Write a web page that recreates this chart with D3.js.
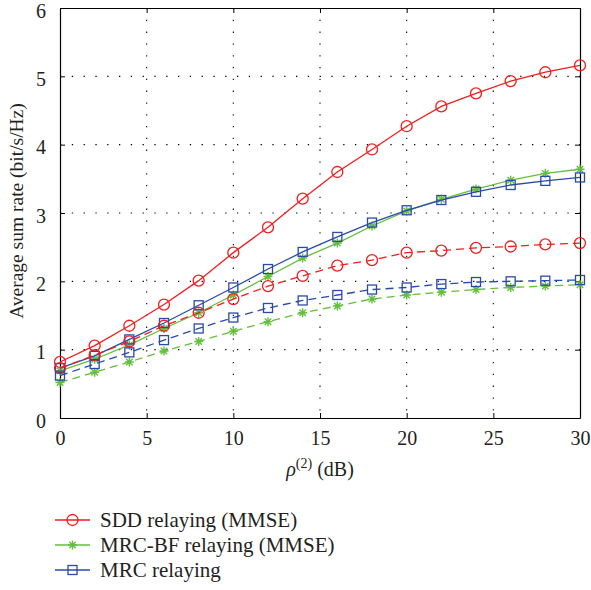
<!DOCTYPE html>
<html>
<head>
<meta charset="utf-8">
<script src="https://cdn.jsdelivr.net/npm/d3@7/dist/d3.min.js"></script>
<style>
  html, body { margin: 0; padding: 0; background: #fff; }
  svg { display: block; font-family: "Liberation Serif", "DejaVu Serif", serif; }
</style>
</head>
<body>
<svg id="chart" width="591" height="590"></svg>
<script>
// SNR points rho^(2) in dB
const snr = [0, 2, 4, 6, 8, 10, 12, 14, 16, 18, 20, 22, 24, 26, 28, 30];

// Average sum rate (bit/s/Hz), solid curves
const sddSolid   = [0.82, 1.06, 1.35, 1.66, 2.01, 2.42, 2.79, 3.21, 3.60, 3.93, 4.27, 4.56, 4.75, 4.93, 5.06, 5.16];
const mrcbfSolid = [0.69, 0.86, 1.07, 1.31, 1.54, 1.80, 2.07, 2.34, 2.56, 2.81, 3.03, 3.20, 3.35, 3.48, 3.58, 3.64];
const mrcSolid   = [0.73, 0.91, 1.15, 1.39, 1.65, 1.91, 2.18, 2.43, 2.65, 2.86, 3.04, 3.19, 3.31, 3.41, 3.47, 3.52];

// Dashed curves
const sddDashed   = [0.73, 0.92, 1.12, 1.35, 1.54, 1.74, 1.93, 2.08, 2.23, 2.31, 2.42, 2.45, 2.49, 2.51, 2.54, 2.56];
const mrcbfDashed = [0.52, 0.67, 0.82, 0.98, 1.12, 1.27, 1.41, 1.54, 1.64, 1.74, 1.80, 1.84, 1.88, 1.91, 1.93, 1.95];
const mrcDashed   = [0.62, 0.79, 0.96, 1.14, 1.31, 1.47, 1.61, 1.72, 1.80, 1.88, 1.91, 1.96, 1.99, 2.00, 2.01, 2.02];

const xTicks = [0, 5, 10, 15, 20, 25, 30];
const yTicks = [0, 1, 2, 3, 4, 5, 6];
const legendLabels = ["SDD relaying (MMSE)", "MRC-BF relaying (MMSE)", "MRC relaying"];

const RED = "#f01e1e", GREEN = "#63bf3c", BLUE = "#2a4aa8";
const INK = "#231f20";

const series = [
  { values: sddSolid,    color: RED,   marker: "circle", dashed: false },
  { values: mrcbfSolid,  color: GREEN, marker: "star",   dashed: false },
  { values: mrcSolid,    color: BLUE,  marker: "square", dashed: false },
  { values: sddDashed,   color: RED,   marker: "circle", dashed: true },
  { values: mrcbfDashed, color: GREEN, marker: "star",   dashed: true },
  { values: mrcDashed,   color: BLUE,  marker: "square", dashed: true }
];

const svg = d3.select("#chart");
const L = 60, R = 580, T = 8, B = 418;
const x = d3.scaleLinear().domain([0, 30]).range([L, R]);
const y = d3.scaleLinear().domain([0, 6]).range([B, T]);

// dotted grid
const grid = svg.append("g");
grid.selectAll("line.gx").data(xTicks.slice(1, -1)).enter().append("line")
  .attr("x1", d => x(d)).attr("x2", d => x(d)).attr("y1", T).attr("y2", B)
  .attr("stroke", "#000").attr("stroke-width", 1.1).attr("stroke-dasharray", "1.3,10.5");
grid.selectAll("line.gy").data(yTicks.slice(1, -1)).enter().append("line")
  .attr("x1", L).attr("x2", R).attr("y1", d => y(d)).attr("y2", d => y(d))
  .attr("stroke", "#000").attr("stroke-width", 1.1).attr("stroke-dasharray", "1.3,10.5");

// axes with inward ticks on all four sides
const fs = 20;
const axB = svg.append("g").attr("transform", `translate(0,${B})`)
  .call(d3.axisBottom(x).tickValues(xTicks).tickSizeInner(-5).tickSizeOuter(0).tickPadding(13).tickFormat(d3.format("d")));
const axT = svg.append("g").attr("transform", `translate(0,${T})`)
  .call(d3.axisTop(x).tickValues(xTicks).tickSizeInner(-5).tickSizeOuter(0).tickFormat(""));
const axL = svg.append("g").attr("transform", `translate(${L},0)`)
  .call(d3.axisLeft(y).tickValues(yTicks).tickSizeInner(-5).tickSizeOuter(0).tickPadding(14).tickFormat(d3.format("d")));
const axR = svg.append("g").attr("transform", `translate(${R},0)`)
  .call(d3.axisRight(y).tickValues(yTicks).tickSizeInner(-5).tickSizeOuter(0).tickFormat(""));
[axB, axT, axL, axR].forEach(a => {
  a.select(".domain").attr("stroke", "#000").attr("stroke-width", 1.2);
  a.selectAll(".tick line").attr("stroke", "#000");
  a.selectAll("text").attr("font-family", "Liberation Serif, DejaVu Serif, serif")
    .attr("font-size", fs).attr("fill", INK);
});
// y labels sit slightly below their tick marks
axL.selectAll(".tick text").attr("dy", "0.45em");

// marker drawing
function drawMarker(g, type, cx, cy, color) {
  if (type === "circle") {
    g.append("circle").attr("cx", cx).attr("cy", cy).attr("r", 5.5)
      .attr("fill", "none").attr("stroke", color).attr("stroke-width", 1.3);
  } else if (type === "square") {
    g.append("rect").attr("x", cx - 4.5).attr("y", cy - 4.5).attr("width", 9).attr("height", 9)
      .attr("fill", "none").attr("stroke", color).attr("stroke-width", 1.3);
  } else {
    const s = 4.5, d = s * 0.72;
    const p = `M${cx - s},${cy}L${cx + s},${cy}M${cx},${cy - s}L${cx},${cy + s}` +
              `M${cx - d},${cy - d}L${cx + d},${cy + d}M${cx - d},${cy + d}L${cx + d},${cy - d}`;
    g.append("path").attr("d", p).attr("stroke", color).attr("stroke-width", 1.4).attr("fill", "none");
  }
}

const line = d3.line().x((d, i) => x(snr[i])).y(d => y(d));
const plot = svg.append("g");
series.forEach(s => {
  plot.append("path").datum(s.values).attr("d", line)
    .attr("fill", "none").attr("stroke", s.color).attr("stroke-width", 1.3)
    .attr("stroke-dasharray", s.dashed ? "8,5" : null);
  const mg = plot.append("g");
  s.values.forEach((v, i) => drawMarker(mg, s.marker, x(snr[i]), y(v), s.color));
});

// axis titles
svg.append("text")
  .attr("transform", `translate(23,211) rotate(-90)`)
  .attr("text-anchor", "middle").attr("font-size", 19.5).attr("fill", INK)
  .text("Average sum rate (bit/s/Hz)");

const xl = svg.append("text").attr("x", 320).attr("y", 476)
  .attr("text-anchor", "middle").attr("font-size", fs).attr("fill", INK);
xl.append("tspan").attr("font-style", "italic").text("ρ");
xl.append("tspan").attr("font-size", 14).attr("dy", -8).text("(2)");
xl.append("tspan").attr("dy", 8).text(" (dB)");

// legend
const legend = svg.append("g");
const legColors = [RED, GREEN, BLUE];
const legMarkers = ["circle", "star", "square"];
legendLabels.forEach((lab, i) => {
  const ly = 520 + i * 25;
  legend.append("line").attr("x1", 55).attr("x2", 90).attr("y1", ly).attr("y2", ly)
    .attr("stroke", legColors[i]).attr("stroke-width", 1.3);
  drawMarker(legend, legMarkers[i], 72.5, ly, legColors[i]);
  legend.append("text").attr("x", 100).attr("y", ly + 7).attr("font-size", 21).attr("fill", INK).text(lab);
});
</script>
</body>
</html>
